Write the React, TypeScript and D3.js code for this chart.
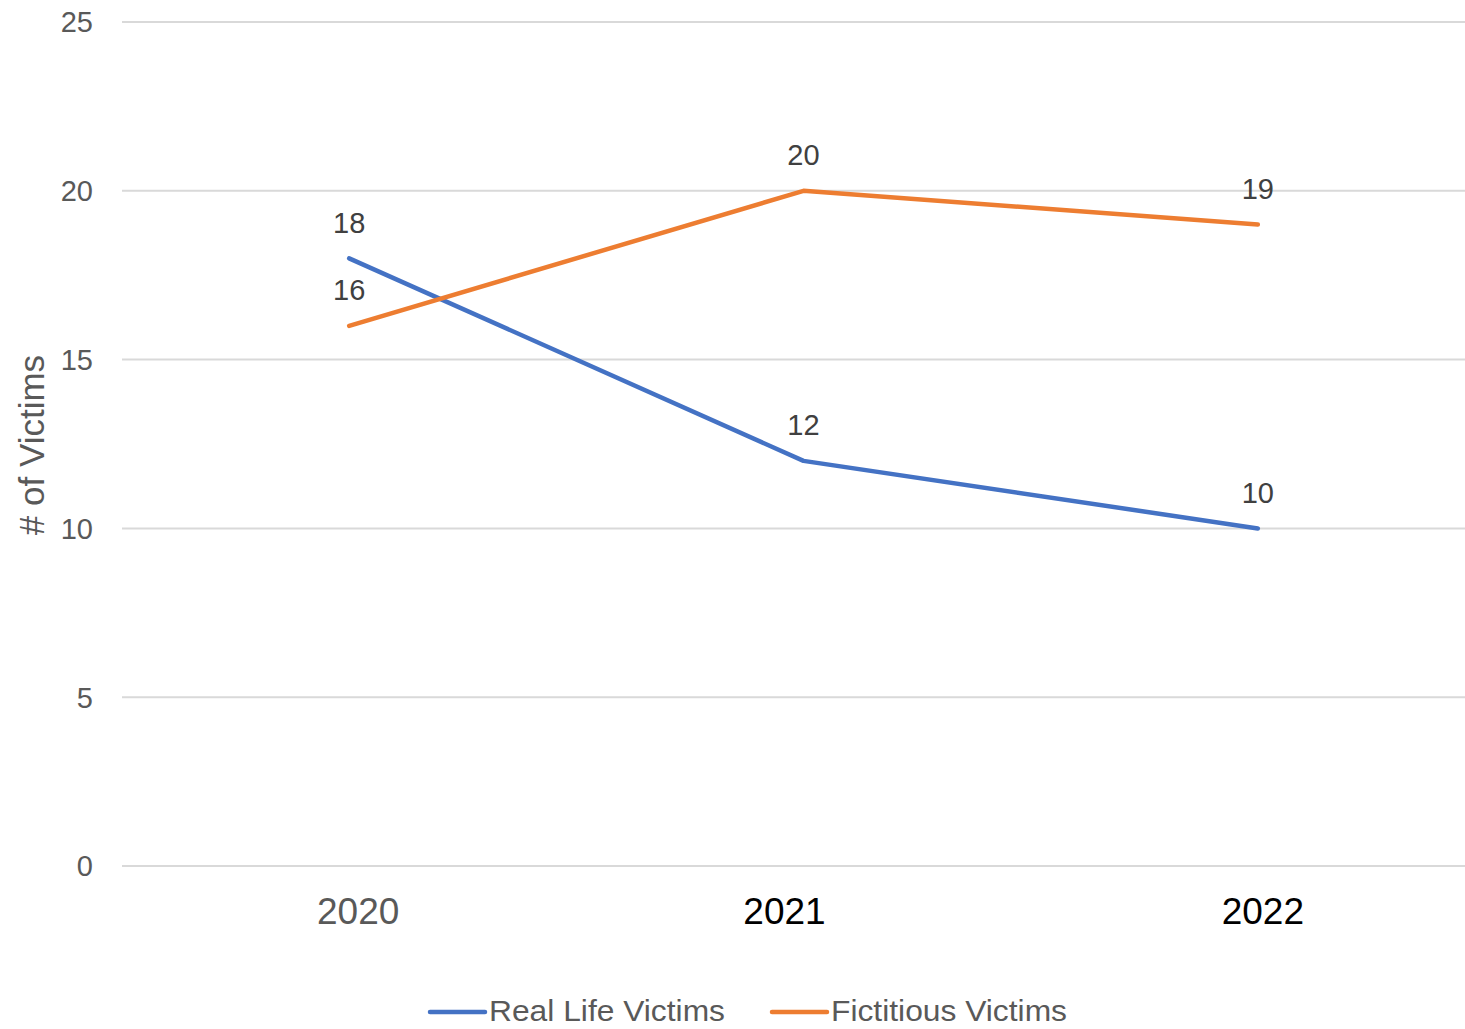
import React from "react";
import * as d3 from "d3";

const years = ["2020", "2021", "2022"];
const realLife = [18, 12, 10];
const fictitious = [16, 20, 19];
const seriesNames = ["Real Life Victims", "Fictitious Victims"];
const seriesColors = ["#4472C4", "#ED7D31"];
const yTicks = [0, 5, 10, 15, 20, 25];
const xLabelColors = ["#595959", "#000000", "#000000"];
const xLabelNudge = [9, -19, 5];

const W = 1465;
const H = 1029;
const FONT = "'Liberation Sans', Arial, sans-serif";

export default function App() {
  const x = d3.scaleBand<string>().domain(years).range([122, 1485]).padding(0);
  const cx = (d: string) => (x(d) as number) + x.bandwidth() / 2;
  const y = d3.scaleLinear().domain([0, 25]).range([866, 22]);
  const line = d3
    .line<number>()
    .x((_, i) => cx(years[i]))
    .y((v) => y(v));
  const series = [realLife, fictitious];

  return (
    <svg
      width={W}
      height={H}
      style={{ position: "absolute", left: 0, top: 0, background: "#fff" }}
      fontFamily={FONT}
    >
      <rect width={W} height={H} fill="#fff" />
      {yTicks.map((t) => (
        <g key={t}>
          <line x1={122} x2={1465} y1={y(t)} y2={y(t)} stroke="#D9D9D9" strokeWidth={2} />
          <text x={93} y={y(t)} dy="0.36em" textAnchor="end" fontSize={29} fill="#595959">
            {t}
          </text>
        </g>
      ))}
      <text
        transform={`translate(44,445) rotate(-90)`}
        textAnchor="middle"
        fontSize={35}
        fill="#595959"
      >
        # of Victims
      </text>
      {years.map((yr, i) => (
        <text
          key={yr}
          x={cx(yr) + xLabelNudge[i]}
          y={924}
          textAnchor="middle"
          fontSize={37}
          fill={xLabelColors[i]}
        >
          {yr}
        </text>
      ))}
      {series.map((s, si) => (
        <path
          key={si}
          d={line(s) as string}
          fill="none"
          stroke={seriesColors[si]}
          strokeWidth={4.5}
          strokeLinecap="round"
          strokeLinejoin="round"
        />
      ))}
      {series.map((s, si) =>
        s.map((v, i) => (
          <text
            key={`${si}-${i}`}
            x={cx(years[i])}
            y={y(v) - 36}
            dy="0.36em"
            textAnchor="middle"
            fontSize={29}
            fill="#404040"
          >
            {v}
          </text>
        ))
      )}
      {seriesNames.map((n, i) => {
        const lx = i === 0 ? 430 : 772;
        return (
          <g key={n}>
            <line
              x1={lx}
              x2={lx + 55}
              y1={1012}
              y2={1012}
              stroke={seriesColors[i]}
              strokeWidth={4.5}
              strokeLinecap="round"
            />
            <text
              x={lx + 59}
              y={1021}
              fontSize={30}
              fill="#595959"
              textLength={236}
              lengthAdjust="spacingAndGlyphs"
            >
              {n}
            </text>
          </g>
        );
      })}
    </svg>
  );
}
